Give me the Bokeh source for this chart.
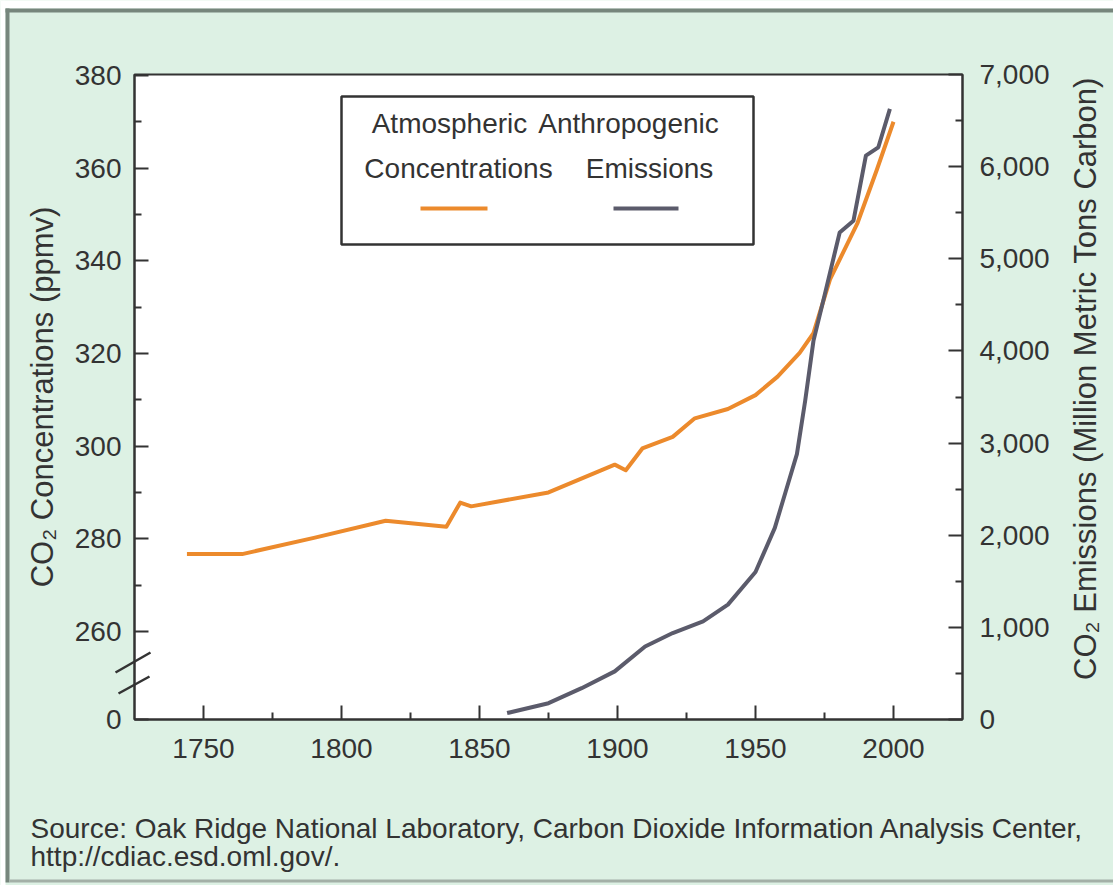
import math
from bokeh.plotting import figure
from bokeh.models import (Range1d, LinearAxis, FixedTicker, NumeralTickFormatter,
                          Label, BoxAnnotation, Arrow)
from bokeh.embed import file_html
from bokeh.resources import INLINE

# ---------------- data ----------------
conc_years = [1744, 1764, 1790, 1816, 1838, 1843, 1847, 1875, 1899, 1903, 1909,
              1920, 1928, 1940, 1950, 1958, 1966, 1971, 1977, 1987, 1994, 2000]
conc_ppmv = [276.7, 276.7, 280.2, 283.9, 282.6, 287.8, 287.0, 290.0, 296.0, 294.8, 299.5,
             302.0, 306.0, 308.0, 311.0, 315.0, 320.1, 324.4, 336.0, 348.2, 359.7, 370.0]

emis_years = [1860, 1875, 1887, 1899, 1910, 1920, 1931, 1940, 1950, 1957, 1961,
              1965, 1968, 1971, 1975, 1980.5, 1985.5, 1990, 1994.5, 1998.7]
emis_mmtc = [70, 177, 340, 522, 793, 938, 1065, 1247, 1600, 2080, 2480,
             2880, 3460, 4109, 4600, 5286, 5413, 6120, 6210, 6627]

x_ticks = [1750, 1800, 1850, 1900, 1950, 2000]
x_minor = [1775, 1825, 1875, 1925, 1975]
left_ticks = [241, 260, 280, 300, 320, 340, 360, 380]
left_minor = [270, 290, 310, 330, 350, 370]
left_overrides = {241: "0"}
right_ticks = [0, 1000, 2000, 3000, 4000, 5000, 6000, 7000]
right_minor = [500, 1500, 2500, 3500, 4500, 5500, 6500]

left_title = "CO\u2082 Concentrations (ppmv)"
right_title = "CO\u2082 Emissions (Million Metric Tons Carbon)"
legend_conc = ["Atmospheric", "Concentrations"]
legend_emis = ["Anthropogenic", "Emissions"]
source_lines = ["Source: Oak Ridge National Laboratory, Carbon Dioxide Information Analysis Center,",
                "http://cdiac.esd.oml.gov/."]

# ---------------- layout: plot box in canvas pixels ----------------
W, H = 1113, 885
X0_YEAR, X1_YEAR = 1725, 2025
Y0_PPM, Y1_PPM = 241, 380.2
EM0, EM1 = 0, 7000
FL, FR, FT, FB = 134, 962, 74, 719          # plot box edges (pixels)
PXY = (FR - FL) / (X1_YEAR - X0_YEAR)        # pixels per year
PXP = (FB - FT) / (Y1_PPM - Y0_PPM)          # pixels per ppmv
PXE = (FB - FT) / (EM1 - EM0)                # pixels per MtC


def X(px):
    return X0_YEAR + (px - FL) / PXY


def Y(py):
    return Y1_PPM - (py - FT) / PXP


def E(py):
    return EM1 - (py - FT) / PXE


FONT = "Liberation Sans"
TXT = "#333333"
ORANGE = "#ec8a2c"
GRAY = "#5b5b6b"
GREEN = "#ddf1e4"

p = figure(width=W, height=H, output_backend="svg", toolbar_location=None,
           x_range=Range1d(X(0), X(W)), y_range=Range1d(Y(H), Y(0)),
           min_border=0, min_border_left=0, min_border_right=0,
           min_border_top=0, min_border_bottom=0,
           background_fill_color=GREEN, border_fill_color=GREEN,
           outline_line_color=None)
p.grid.visible = False
p.extra_y_ranges = {"em": Range1d(E(H), E(0))}

# page margins / frame of the picture
for l, r, t, b, c in [(0, W, 0, 8, "white"), (0, 5, 0, H, "white"),
                      (5, W, 8, 12, "#76867c"), (5, 9, 8, 882, "#76867c"),
                      (9, W, 879, 882, "#a3b0a7")]:
    p.add_layout(BoxAnnotation(left=X(l), right=X(r), top=Y(t), bottom=Y(b),
                               fill_color=c, fill_alpha=1, line_color=None,
                               level="underlay"))
# white plot area with dark outline
p.add_layout(BoxAnnotation(left=X0_YEAR, right=X1_YEAR, top=Y1_PPM, bottom=Y0_PPM,
                           fill_color="white", fill_alpha=1, line_color=TXT,
                           line_width=2, line_alpha=1, level="underlay"))

right_axis = LinearAxis(y_range_name="em")
p.add_layout(right_axis, "right")


def style_axis(ax, standoff, label_standoff, label_size):
    ax.axis_line_color = TXT
    ax.axis_line_width = 2
    ax.major_tick_in = 14
    ax.major_tick_out = 0
    ax.major_tick_line_color = TXT
    ax.major_tick_line_width = 2
    ax.minor_tick_in = 7
    ax.minor_tick_out = 0
    ax.minor_tick_line_color = TXT
    ax.minor_tick_line_width = 2
    ax.major_label_text_font = FONT
    ax.major_label_text_font_size = "28px"
    ax.major_label_text_color = TXT
    ax.major_label_standoff = standoff
    ax.axis_label_text_font = FONT
    ax.axis_label_text_font_size = label_size
    ax.axis_label_text_font_style = "normal"
    ax.axis_label_text_color = TXT
    ax.axis_label_standoff = label_standoff


xa = p.xaxis[0]
style_axis(xa, 19, 0, "28px")
xa.ticker = FixedTicker(ticks=x_ticks, minor_ticks=x_minor)
xa.fixed_location = Y0_PPM
xa.bounds = (X0_YEAR, X1_YEAR)

ya = p.yaxis[0]
style_axis(ya, 13, 12, "31px")
ya.ticker = FixedTicker(ticks=left_ticks, minor_ticks=left_minor)
ya.major_label_overrides = left_overrides
ya.axis_label = left_title
ya.fixed_location = X0_YEAR
ya.bounds = (Y0_PPM, Y1_PPM)

style_axis(right_axis, 17, 20, "32px")
right_axis.ticker = FixedTicker(ticks=right_ticks, minor_ticks=right_minor)
right_axis.formatter = NumeralTickFormatter(format="0,0")
right_axis.fixed_location = X1_YEAR
right_axis.bounds = (EM0, EM1)

# right axis title, placed as in the reference (a little above the axis middle)
p.add_layout(Label(x=X(1085), y=Y(378), text=right_title, angle=math.pi / 2,
                   text_align="center", text_baseline="middle", text_font=FONT,
                   text_font_size="31px", text_color=TXT, level="overlay"))

# ---------------- series ----------------
p.line(conc_years, conc_ppmv, line_color=ORANGE, line_width=4, line_join="round")
p.line(emis_years, emis_mmtc, y_range_name="em", line_color=GRAY, line_width=4,
       line_join="round")

# ---------------- legend (drawn by hand) ----------------
p.add_layout(BoxAnnotation(left=X(341), right=X(753), top=Y(96), bottom=Y(244),
                           fill_color="white", fill_alpha=1, line_color=TXT,
                           line_width=2.5, line_alpha=1, level="overlay"))
for txt, cx, by in [(legend_conc[0], 449, 123), (legend_conc[1], 458, 168),
                    (legend_emis[0], 628, 123), (legend_emis[1], 649, 168)]:
    p.add_layout(Label(x=X(cx), y=Y(by), text=txt, text_align="center",
                       text_baseline="alphabetic", text_font=FONT,
                       text_font_size="28px", text_color=TXT, level="overlay"))
for x0, x1, c in [(420, 487, ORANGE), (613, 678, GRAY)]:
    p.add_layout(Arrow(x_start=X(x0), y_start=Y(208), x_end=X(x1), y_end=Y(208),
                       end=None, line_color=c, line_width=4, level="overlay"))

# ---------------- axis break marks ----------------
for (xs, ys, xe, ye) in [(115, 672, 150, 652), (118, 693, 149, 676)]:
    p.add_layout(Arrow(x_start=X(xs), y_start=Y(ys), x_end=X(xe), y_end=Y(ye),
                       end=None, line_color=TXT, line_width=2.5, level="overlay"))

# ---------------- source note ----------------
for txt, by in [(source_lines[0], 828), (source_lines[1], 856)]:
    p.add_layout(Label(x=X(30), y=Y(by), text=txt, text_align="left",
                       text_baseline="alphabetic", text_font=FONT,
                       text_font_size="28px", text_color=TXT, level="overlay"))

open("out.html", "w").write(file_html(p, INLINE))
